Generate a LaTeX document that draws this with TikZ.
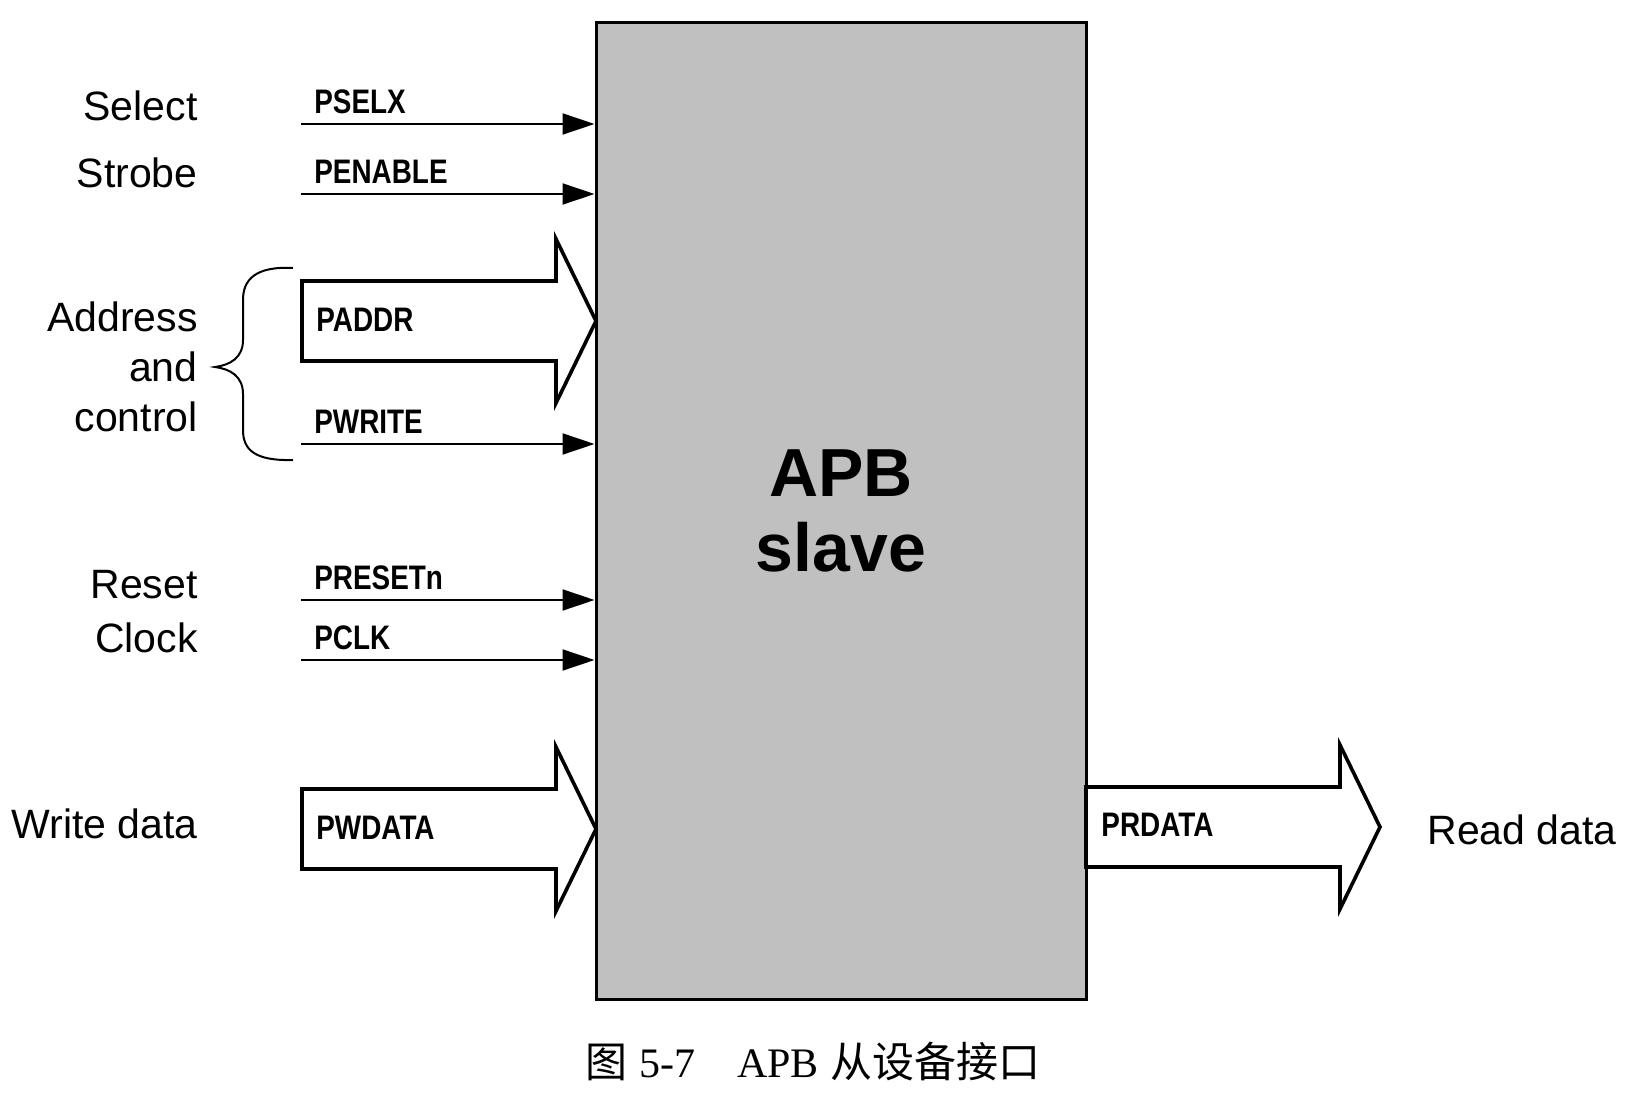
\documentclass[tikz,border=0pt]{standalone}
\usepackage{fontspec}
\setmainfont{Liberation Sans}
\newfontfamily\signalfont[FakeStretch=0.82]{Liberation Sans}
\newfontfamily\captionlatin{Liberation Serif}
\newfontfamily\captioncjk{Noto Sans CJK SC}
\usetikzlibrary{arrows.meta,positioning,calc}
\definecolor{slaveGray}{RGB}{192,192,192}

\begin{document}
\begin{tikzpicture}[x=0.5pt,y=-0.5pt,
    slavebox/.style={draw,line width=1.5pt,fill=slaveGray,minimum width=245pt,
      minimum height=488pt,inner sep=0pt,align=center,
      font=\fontsize{34}{37.5}\selectfont\bfseries},
    sig/.style={line width=1pt,-{Triangle[length=16pt,width=10.5pt]}},
    bus/.style={draw,line width=1.8pt,fill=white},
    siglabel/.style={anchor=west,inner sep=0pt,
      font=\signalfont\fontsize{17}{20}\selectfont\bfseries},
    desc/.style={anchor=east,inner sep=0pt,align=right,
      font=\fontsize{20.5}{25}\selectfont},
    busarrow/.pic={\draw[bus] (0,-40) -- (254,-40) -- (254,-82) -- (294,0)
      -- (254,82) -- (254,40) -- (0,40) -- cycle;}]
  \useasboundingbox (0,0) rectangle (1630,1101);

  % the slave block
  \node[slavebox] (slave) at (841,511) {APB\\slave};

  % wide buses
  \coordinate (paddr)  at (302,321);
  \coordinate (pwdata) at (302,829);
  \coordinate (prdata) at (1086,827);
  \pic at (paddr)  {busarrow};
  \pic at (pwdata) {busarrow};
  \pic at (prdata) {busarrow};
  \node[siglabel] (paddrlbl)  at (316,320)  {PADDR};
  \node[siglabel] (pwdatalbl) at (316,828)  {PWDATA};
  \node[siglabel] (prdatalbl) at (1101,825) {PRDATA};

  % single signals
  \foreach \name/\y/\lbl in {psel/124/PSELX, pen/194/PENABLE, pwr/444/PWRITE,
                             prst/600/PRESETn, pclk/660/PCLK}{
    \coordinate (\name) at (301,\y);
    \draw[sig] (\name) -- (\name -| slave.west);
    \node[siglabel] (\name lbl) at (314,\y-22) {\lbl};
  }

  % descriptions
  \node[desc] (selecttxt) at (198,106) {Select};
  \node[desc] (strobetxt) at (198,173) {Strobe};
  \node[desc] (addrtxt)   at (198,367) {Address\\and\\control};
  \node[desc] (resettxt)  at (198,585) {Reset};
  \node[desc] (clocktxt)  at (198,638) {Clock};
  \node[desc] (wdatatxt)  at (198,824) {Write data};
  \node[desc,anchor=west] (rdatatxt) at (1427,830) {Read data};

  % brace
  \draw[line width=1pt] (293,268) .. controls (255,266) and (243,280) .. (243,300)
    -- (243,340) .. controls (243,358) and (230,365) .. (215,367)
    .. controls (230,369) and (243,376) .. (243,394)
    -- (243,430) .. controls (243,450) and (255,461) .. (293,460);

  % caption
  \node[font=\fontsize{21}{25}\selectfont] (caption) at (813,1062)
    {{\captioncjk 图} {\captionlatin 5-7}\quad{\captionlatin APB} {\captioncjk 从设备接口}};
\end{tikzpicture}
\end{document}
